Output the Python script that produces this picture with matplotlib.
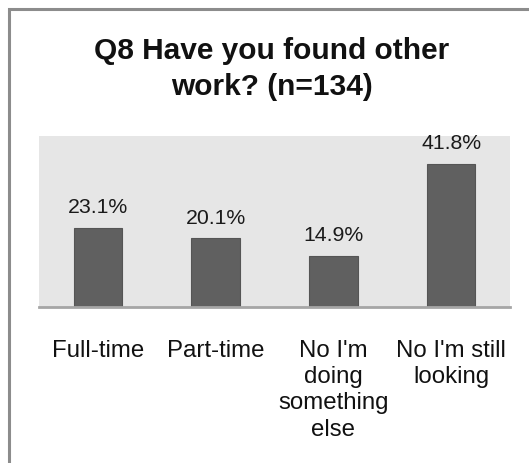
import matplotlib.pyplot as plt
from matplotlib.patches import Rectangle

categories = ["Full-time", "Part-time", "No I'm\ndoing\nsomething\nelse", "No I'm still\nlooking"]
percent = [23.1, 20.1, 14.9, 41.8]

plt.rcParams["font.family"] = ["Liberation Sans", "DejaVu Sans"]

W, H = 529, 464
fig = plt.figure(figsize=(W / 100, H / 100), dpi=100)

# frame around the chart (only top/left fall inside the canvas)
fig.patches.append(
    Rectangle((9 / W, 0 - 0.05), 1.2, (H - 10) / H + 0.05, transform=fig.transFigure,
              fill=False, edgecolor="#8c8c8c", linewidth=2.2, zorder=0)
)

ax = fig.add_axes([39 / W, 1 - 308 / H, (510 - 39) / W, (308 - 137) / H])
ax.set_facecolor("#e6e6e6")

x = range(len(categories))
bars = ax.bar(x, percent, width=0.41, color="#606060", edgecolor="#555555", linewidth=0.8, zorder=2)
for b, v in zip(bars, percent):
    ax.text(b.get_x() + b.get_width() / 2, v + 4.6, f"{v:.1f}%", ha="center", va="baseline",
            fontsize=15.3, color="#1a1a1a")

ax.set_xlim(-0.5, 3.5)
ax.set_ylim(0, 50)
ax.set_yticks([])
ax.set_xticks(list(x))
ax.set_xticklabels(categories, fontsize=17.3, color="#111111", linespacing=1.25)
ax.tick_params(axis="x", length=0, pad=23)
for side in ("top", "left", "right"):
    ax.spines[side].set_visible(False)
ax.spines["bottom"].set_color("#a6a6a6")
ax.spines["bottom"].set_linewidth(2)
ax.spines["bottom"].set_zorder(3)

fig.text(272 / W, 1 - 59 / H, "Q8 Have you found other", ha="center", va="baseline",
         fontsize=21.5, fontweight="bold", color="#111111")
fig.text(272 / W, 1 - 95 / H, "work? (n=134)", ha="center", va="baseline",
         fontsize=21.5, fontweight="bold", color="#111111")

fig.savefig("out.png", dpi=100)
